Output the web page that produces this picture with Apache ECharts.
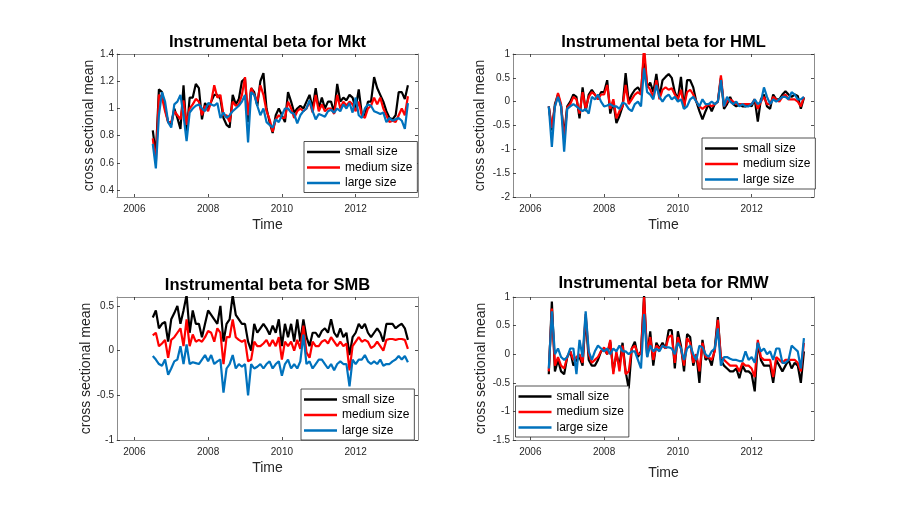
<!DOCTYPE html>
<html><head><meta charset="utf-8">
<script src="https://cdn.jsdelivr.net/npm/echarts@6/dist/echarts.min.js"></script>
<style>html,body{margin:0;padding:0;background:#fff}#c{width:900px;height:513px}</style>
</head><body><div id="c"></div>
<script>
// ---- data ----
const seriesNames = ['small size', 'medium size', 'large size'];
const startYear = 2006.5;   // July 2006, monthly observations
const xTicks = [2006, 2008, 2010, 2012];

const mktTicks = [0.4, 0.6, 0.8, 1, 1.2, 1.4];
const hmlTicks = [-2, -1.5, -1, -0.5, 0, 0.5, 1];
const smbTicks = [-1, -0.5, 0, 0.5];
const rmwTicks = [-1.5, -1, -0.5, 0, 0.5, 1];

const mktSmall = [0.84,0.66,1.14,1.12,1.0,0.9,0.88,1.0,0.93,0.85,
 1.17,0.82,1.08,1.08,1.18,1.15,0.92,1.04,1.0,1.05,
 1.1,1.1,1.07,0.93,0.88,0.86,1.1,1.03,1.07,1.2,
 1.22,0.9,1.15,1.12,1.02,1.2,1.26,1.0,0.9,0.82,
 0.95,1.0,0.95,0.9,1.12,1.05,0.97,1.0,1.02,1.0,
 1.05,1.1,1.0,1.15,1.0,1.08,1.0,1.05,1.05,0.97,
 1.18,1.05,1.08,1.06,1.1,1.08,1.0,1.14,0.96,0.95,
 1.05,1.05,1.23,1.15,1.1,1.05,0.98,0.93,0.92,0.95,
 1.12,1.12,1.07,1.17];
const mktMedium = [0.78,0.6,1.1,1.08,0.98,0.9,0.9,0.98,0.95,0.92,
 1.06,0.88,1.0,1.03,1.07,1.05,0.95,1.02,0.98,1.05,
 1.17,1.08,1.1,0.95,0.95,0.9,1.05,1.02,1.03,1.1,
 1.23,0.95,1.15,1.1,1.05,1.17,1.1,0.98,0.92,0.83,
 0.92,0.95,0.93,0.93,1.05,1.0,0.93,0.98,1.0,0.98,
 1.0,1.05,0.97,1.1,0.98,1.03,0.98,1.0,1.0,0.96,
 1.1,1.0,1.05,1.02,1.05,1.03,0.98,1.05,0.95,0.93,
 1.0,1.02,1.08,1.03,1.08,1.0,0.95,0.9,0.91,0.9,
 0.95,1.0,0.95,1.09];
const mktLarge = [0.74,0.56,0.95,1.12,1.05,0.9,0.86,1.03,1.05,1.1,
 0.95,0.76,0.97,1.0,1.02,1.03,1.0,0.98,1.04,1.03,
 1.02,1.04,0.93,0.97,0.93,0.95,0.98,1.0,1.02,1.05,
 1.1,0.75,1.12,1.1,1.02,0.95,1.0,0.9,0.88,0.86,
 0.92,0.9,0.95,1.0,1.0,0.97,0.96,0.89,0.95,0.98,
 1.0,1.06,0.98,0.92,0.96,0.95,0.94,0.98,0.99,0.97,
 1.0,0.98,1.03,1.0,1.04,0.97,1.08,0.95,0.93,1.0,
 1.03,1.02,0.98,0.97,0.96,0.97,0.9,0.93,0.91,0.92,
 0.93,0.91,0.85,1.04];

const hmlSmall = [-0.1,-0.6,-0.05,0.15,-0.1,-0.7,-0.1,0.0,0.15,0.1,
 -0.35,0.3,-0.2,0.15,0.25,0.15,0.05,0.2,0.2,0.45,
 -0.25,0.0,-0.45,-0.3,-0.1,0.6,0.0,0.15,0.25,0.3,
 0.2,1.0,0.3,0.4,0.2,0.58,0.1,0.45,0.52,0.58,
 0.5,0.2,0.05,0.52,-0.15,0.45,0.45,0.3,0.0,-0.2,
 -0.37,-0.2,-0.05,-0.2,-0.05,0.0,0.5,-0.15,-0.05,0.1,
 -0.05,-0.1,-0.05,-0.1,-0.1,-0.05,-0.1,0.05,-0.42,0.05,
 0.15,-0.1,-0.15,0.15,0.05,0.05,0.15,0.22,0.15,0.1,
 0.15,0.12,-0.15,0.08];
const hmlMedium = [-0.1,-0.55,-0.1,0.18,-0.05,-0.8,-0.12,-0.05,0.1,0.05,
 -0.25,0.2,-0.15,0.1,0.2,0.15,0.05,0.15,0.15,0.35,
 -0.15,0.05,-0.35,-0.2,-0.1,0.35,-0.05,0.05,0.15,0.2,
 0.15,1.15,0.35,0.25,0.1,0.45,0.05,0.25,0.3,0.25,
 0.28,0.15,0.05,0.25,-0.1,0.2,0.25,0.15,0.0,-0.1,
 -0.15,-0.1,-0.05,-0.1,-0.05,0.0,0.55,-0.1,0.0,0.05,
 0.0,-0.05,-0.05,-0.05,-0.05,-0.05,-0.05,0.05,-0.15,0.0,
 0.1,-0.05,-0.05,0.1,0.05,0.0,0.1,0.15,0.05,0.05,
 0.05,0.0,-0.1,0.1];
const hmlLarge = [-0.1,-0.95,-0.1,0.1,-0.1,-1.05,-0.15,-0.1,-0.05,-0.1,
 -0.15,-0.2,-0.15,-0.25,0.1,0.05,0.15,0.0,-0.1,-0.08,
 -0.05,-0.1,-0.1,-0.15,-0.02,-0.05,-0.15,-0.2,-0.05,0.0,
 -0.1,0.7,0.2,0.15,0.05,0.35,0.1,0.0,0.1,0.15,
 0.05,0.1,0.0,0.05,-0.15,-0.1,0.05,0.1,0.0,-0.1,
 0.05,-0.05,-0.05,0.0,-0.05,0.0,0.45,-0.1,0.1,0.0,
 -0.05,0.0,-0.1,-0.05,-0.1,-0.1,-0.05,0.05,-0.05,0.0,
 0.3,0.1,-0.05,0.05,0.0,0.05,0.1,0.1,0.05,0.2,
 0.15,0.05,0.05,0.1];

const smbSmall = [0.37,0.45,0.25,0.3,0.32,0.1,0.35,0.42,0.5,0.3,
 0.45,0.62,0.2,0.45,0.3,0.3,0.15,0.3,0.45,0.4,
 0.35,0.3,0.5,0.1,0.3,0.35,0.62,0.4,0.35,0.3,
 0.3,0.1,0.0,0.3,0.2,0.25,0.3,0.25,0.18,0.28,
 0.2,0.35,0.05,0.3,0.15,0.3,0.1,0.35,0.1,0.35,
 0.15,0.05,0.2,0.2,0.15,0.22,0.25,0.2,0.35,0.2,
 0.15,0.25,0.15,0.2,-0.05,0.15,0.2,0.3,0.25,0.3,
 0.2,0.15,0.2,0.25,0.2,0.1,0.3,0.3,0.3,0.25,
 0.28,0.3,0.25,0.12];
const smbMedium = [0.17,0.2,0.05,0.08,0.12,-0.08,0.12,0.15,0.2,0.25,
 0.05,0.35,0.05,0.18,0.1,0.12,0.1,0.15,0.22,0.2,
 0.1,0.25,0.2,-0.15,0.15,0.15,0.35,0.15,0.12,0.1,
 0.12,-0.12,-0.1,0.1,0.05,0.05,0.08,0.12,0.05,0.12,
 0.05,0.15,-0.1,0.1,0.05,0.1,0.0,0.12,0.02,0.28,
 -0.02,-0.08,0.1,0.05,0.05,0.1,0.12,0.08,0.15,0.1,
 0.05,0.1,0.05,0.08,-0.22,0.05,0.1,0.15,0.1,0.12,
 0.1,0.03,0.05,0.1,0.05,0.0,0.12,0.13,0.13,0.12,
 0.13,0.13,0.12,0.02];
const smbLarge = [-0.06,-0.1,-0.15,-0.17,-0.1,-0.27,-0.2,-0.12,-0.1,0.05,
 -0.15,0.07,-0.15,-0.13,-0.14,-0.15,-0.1,-0.05,-0.12,-0.05,
 -0.15,-0.12,-0.1,-0.47,-0.2,-0.15,-0.05,-0.2,-0.15,-0.18,
 -0.15,-0.5,-0.15,-0.2,-0.18,-0.15,-0.2,-0.15,-0.12,-0.2,
 -0.15,-0.12,-0.28,-0.15,-0.1,-0.2,-0.15,-0.2,-0.12,0.18,
 -0.15,-0.12,-0.2,-0.15,-0.1,-0.1,-0.15,-0.2,-0.15,-0.22,
 -0.15,-0.12,-0.15,-0.15,-0.4,-0.1,-0.15,-0.1,-0.1,-0.05,
 -0.12,-0.15,-0.12,-0.15,-0.1,-0.17,-0.15,-0.15,-0.12,-0.1,
 -0.06,-0.1,-0.06,-0.13];

const rmwSmall = [-0.35,0.92,-0.3,-0.1,-0.3,-0.35,-0.05,0.05,-0.2,-0.1,
 -0.05,-0.2,0.65,-0.1,-0.2,-0.2,-0.1,0.05,0.1,0.0,
 0.22,-0.3,0.0,-0.2,0.2,-0.3,-0.6,0.1,0.22,-0.05,
 0.05,1.02,-0.05,0.4,-0.2,0.2,0.1,0.2,0.1,0.42,
 0.42,-0.25,0.4,0.15,-0.3,0.35,0.3,-0.2,0.0,-0.5,
 0.25,-0.1,-0.05,-0.2,0.1,0.65,-0.1,-0.2,-0.25,-0.3,
 -0.3,-0.25,-0.42,-0.2,-0.3,-0.3,-0.35,-0.65,0.2,-0.1,
 -0.2,-0.2,-0.2,-0.5,-0.1,-0.2,-0.3,-0.2,-0.1,-0.25,
 -0.15,-0.2,-0.5,0.05];
const rmwMedium = [-0.3,0.8,-0.2,-0.05,-0.2,-0.25,-0.05,0.05,-0.1,-0.05,
 0.0,-0.15,0.7,0.0,-0.15,-0.1,-0.05,0.05,0.12,0.0,
 0.25,-0.35,0.05,-0.3,0.15,-0.35,-0.3,0.1,0.15,0.0,
 0.0,1.0,0.0,0.3,-0.1,0.15,0.1,0.15,0.1,0.3,
 0.33,-0.15,0.3,0.1,-0.2,0.28,0.2,-0.15,0.0,-0.3,
 0.2,-0.05,-0.05,-0.1,0.05,0.6,-0.05,-0.1,-0.15,-0.2,
 -0.2,-0.2,-0.3,-0.15,-0.2,-0.2,-0.25,-0.4,0.25,-0.05,
 -0.1,-0.1,-0.1,-0.4,-0.05,-0.1,-0.15,-0.1,-0.1,-0.1,
 -0.1,-0.15,-0.3,0.2];
const rmwLarge = [-0.25,0.75,0.0,0.1,-0.05,-0.1,-0.05,0.1,0.1,-0.35,
 0.25,-0.05,0.75,0.05,-0.1,0.05,0.15,0.1,0.05,0.1,
 0.0,0.1,0.05,0.15,0.05,0.05,0.0,0.05,0.05,-0.1,
 -0.25,0.7,-0.05,0.15,0.05,0.1,0.05,0.15,0.12,0.12,
 0.1,0.0,0.2,0.1,-0.1,0.1,0.15,0.0,-0.1,0.15,
 0.12,0.0,-0.05,0.05,0.1,0.45,-0.2,-0.05,-0.05,-0.08,
 -0.1,-0.1,-0.12,-0.12,0.05,-0.1,-0.05,-0.15,0.2,0.05,
 0.1,0.0,0.05,-0.1,0.1,0.1,-0.15,-0.15,-0.1,0.15,
 0.1,0.05,-0.25,0.28];

// ---- layout / style ----
const FONT = 'Liberation Sans';
const AX = '#262626';
const AXLINE = '#8c8c8c';
const colors = ['#000000', '#ff0000', '#0072bd'];
const panels = [
  {title:'Instrumental beta for Mkt', grid:{left:117, top:54, width:301, height:143},
   y:[0.35,1.4], ticks:mktTicks, data:[mktSmall,mktMedium,mktLarge], legend:{left:304, top:141.5}, yGap:21, xGap:21, titleTop:33.5},
  {title:'Instrumental beta for HML', grid:{left:513, top:54, width:301, height:143},
   y:[-2,1], ticks:hmlTicks, data:[hmlSmall,hmlMedium,hmlLarge], legend:{left:702, top:138}, yGap:26, xGap:21, titleTop:33.5},
  {title:'Instrumental beta for SMB', grid:{left:117, top:297, width:301, height:143},
   y:[-1,0.6], ticks:smbTicks, data:[smbSmall,smbMedium,smbLarge], legend:{left:301, top:389}, yGap:23, xGap:21, titleTop:276.5},
  {title:'Instrumental beta for RMW', grid:{left:513, top:297, width:301, height:143},
   y:[-1.5,1], ticks:rmwTicks, data:[rmwSmall,rmwMedium,rmwLarge], legend:{left:515.5, top:386}, yGap:24.5, xGap:26, titleTop:275}
];
const xMin = 2005.53, xMax = 2013.69;

const option = {backgroundColor:'#fff', animation:false,
  title:[], grid:[], xAxis:[], yAxis:[], series:[], legend:[]};

panels.forEach((p, k) => {
  option.grid.push(Object.assign({containLabel:false}, p.grid));
  option.title.push({text:p.title, left:p.grid.left + p.grid.width/2, top:p.titleTop, textAlign:'center', padding:0,
    textStyle:{fontFamily:FONT, fontSize:16.5, fontWeight:'bold', color:'#000'}});
  const baseX = {type:'value', gridIndex:k, min:xMin, max:xMax, splitLine:{show:false},
    axisLine:{show:true, onZero:false, lineStyle:{color:AXLINE, width:1}},
    axisTick:{show:true, inside:true, length:3, customValues:xTicks, lineStyle:{color:AX, width:0.8}}};
  option.xAxis.push(Object.assign({}, baseX, {position:'bottom',
    axisLabel:{show:true, customValues:xTicks, formatter:(v) => String(v), fontFamily:FONT, fontSize:10, color:AX, margin:7},
    name:'Time', nameLocation:'middle', nameGap:p.xGap,
    nameTextStyle:{fontFamily:FONT, fontSize:14, color:AX}}));
  option.xAxis.push(Object.assign({}, baseX, {position:'top', axisLabel:{show:false}}));
  const baseY = {type:'value', gridIndex:k, min:p.y[0], max:p.y[1], splitLine:{show:false},
    axisLine:{show:true, onZero:false, lineStyle:{color:AXLINE, width:1}},
    axisTick:{show:true, inside:true, length:3, customValues:p.ticks, lineStyle:{color:AX, width:0.8}}};
  option.yAxis.push(Object.assign({}, baseY, {position:'left',
    axisLabel:{show:true, customValues:p.ticks, formatter:(v) => String(v), fontFamily:FONT, fontSize:10, color:AX, margin:3},
    name:'cross sectional mean', nameLocation:'middle', nameGap:p.yGap,
    nameTextStyle:{fontFamily:FONT, fontSize:14, color:AX}}));
  option.yAxis.push(Object.assign({}, baseY, {position:'right', axisLabel:{show:false}}));
  p.data.forEach((vals, s) => {
    option.series.push({type:'line', name:seriesNames[s], xAxisIndex:2*k, yAxisIndex:2*k,
      showSymbol:false, symbol:'none', clip:true, z:2+s,
      lineStyle:{color:colors[s], width:2.2}, itemStyle:{color:colors[s]},
      data:vals.map((v, i) => [startYear + i/12, v])});
  });
  option.legend.push({left:p.legend.left, top:p.legend.top, orient:'vertical', data:seriesNames,
    icon:'rect', itemWidth:33, itemHeight:2.6, itemGap:0.5, padding:[3,5,2,3],
    borderColor:AX, borderWidth:0.8, backgroundColor:'#fff', selectedMode:false,
    textStyle:{fontFamily:FONT, fontSize:12, color:'#000', lineHeight:15}});
});

const chart = echarts.init(document.getElementById('c'), null, {renderer:'canvas'});
chart.setOption(option);
</script></body></html>
